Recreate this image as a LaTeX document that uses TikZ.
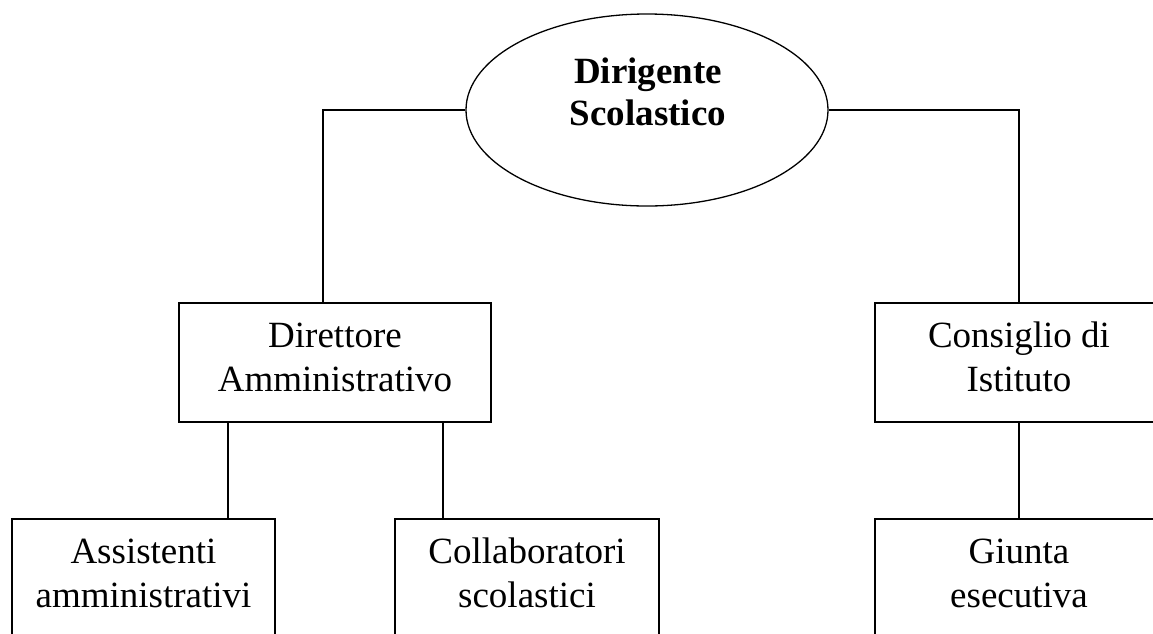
\documentclass[tikz,border=0pt]{standalone}
\usepackage{fontspec}
\setmainfont{Liberation Serif}
\usetikzlibrary{shapes.geometric,calc}
\begin{document}
\begin{tikzpicture}[x=1pt,y=-1pt,
  box/.style={draw=black,line width=1.3pt,rectangle,inner sep=0pt},
  lab/.style={align=center,anchor=base,inner sep=0pt,font=\fontsize{37}{43.5}\selectfont},
  conn/.style={draw=black,line width=1.3pt}]
\useasboundingbox (0,0) rectangle (1153,633);
\clip (0,0) rectangle (1153,633);
% ellipse
\node[draw,ellipse,line width=1.3pt,minimum width=362pt,minimum height=192pt,inner sep=0pt] (dg) at (647,110) {};
\node[lab,font=\fontsize{37}{42}\selectfont\bfseries] (dgT) at (648,125.5) {Dirigente\\Scolastico};
% boxes
\node[box,minimum width=312pt,minimum height=119pt] (dir) at (335,362.5) {};
\node[box,minimum width=288pt,minimum height=119pt] (cons) at (1019,362.5) {};
\node[box,minimum width=263pt,minimum height=140pt] (ass) at (143.5,589) {};
\node[box,minimum width=264pt,minimum height=140pt] (coll) at (527,589) {};
\node[box,minimum width=288pt,minimum height=140pt] (giu) at (1019,589) {};
% labels
\node[lab] (dirT) at (335,391) {Direttore\\Amministrativo};
\node[lab] (consT) at (1019,391) {Consiglio di\\Istituto};
\node[lab] (assT) at (143.5,607) {Assistenti\\amministrativi};
\node[lab] (collT) at (527,607) {Collaboratori\\scolastici};
\node[lab] (giuT) at (1019,607) {Giunta\\esecutiva};
% connectors
\coordinate (dirL) at ([xshift=-12pt]dir.north);
\draw[conn] (dg.west) -| (dirL);
\draw[conn] (dg.east) -| (cons.north);
\coordinate (dirA) at ([xshift=-107pt]dir.south);
\coordinate (dirB) at ([xshift=108pt]dir.south);
\draw[conn] (dirA) -- (dirA |- ass.north);
\draw[conn] (dirB) -- (dirB |- coll.north);
\draw[conn] (cons.south) -- (giu.north);
\end{tikzpicture}
\end{document}
